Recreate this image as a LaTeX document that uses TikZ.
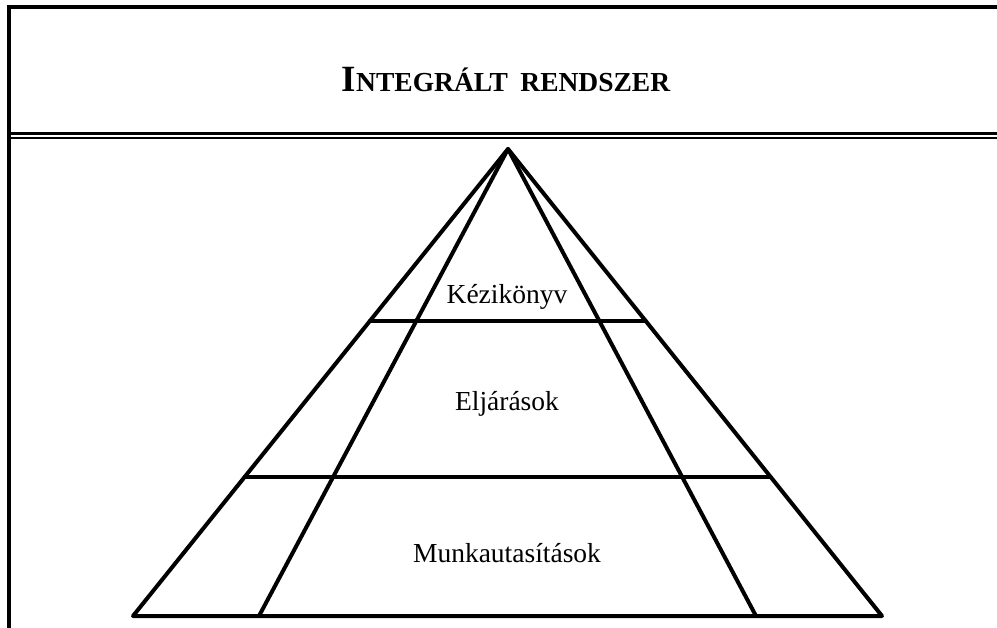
\documentclass[tikz,border=0pt]{standalone}
\usepackage{fontspec}
\setmainfont{Liberation Serif}
\usetikzlibrary{calc}
\begin{document}
\begin{tikzpicture}[x=1pt,y=-1pt,
  frame/.style={line width=4.5pt},
  pyr/.style={line width=4pt,line join=round,line cap=round},
  label/.style={font=\fontsize{27.5}{32}\selectfont,inner sep=0pt}]
\useasboundingbox (0,0) rectangle (997,628);
% outer frame: top and left sides
\draw[frame] (9,628) -- (9,7) -- (997,7);
% double rule under the title band
\draw[line width=3pt] (9,133.5) -- (997,133.5);
\draw[line width=1.5pt] (9,137.8) -- (997,137.8);
% title in small capitals
\node[inner sep=0pt] (title) at (506,80)
  {\bfseries\fontsize{37}{40}\selectfont I\fontsize{27.5}{32}\selectfont NTEGRÁLT\hspace{0.45em}RENDSZER};
% pyramid
\coordinate (apex) at (508,149);
\coordinate (bl) at (133,616);
\coordinate (bil) at (259,616);
\coordinate (bir) at (756,616);
\coordinate (br) at (882,616);
\coordinate (l1) at ($(apex)!0.3683!(bl)$);
\coordinate (r1) at ($(apex)!0.3683!(br)$);
\coordinate (l2) at ($(apex)!0.7024!(bl)$);
\coordinate (r2) at ($(apex)!0.7024!(br)$);
\draw[pyr] (bl) -- (apex) -- (br) -- cycle;
\draw[pyr] (bil) -- (apex) -- (bir);
\draw[pyr] (l1) -- (r1);
\draw[pyr] (l2) -- (r2);
\node[label] (k) at (507,297) {Kézikönyv};
\node[label] (e) at (507,404) {Eljárások};
\node[label] (m) at (507,553) {Munkautasítások};
\end{tikzpicture}
\end{document}
